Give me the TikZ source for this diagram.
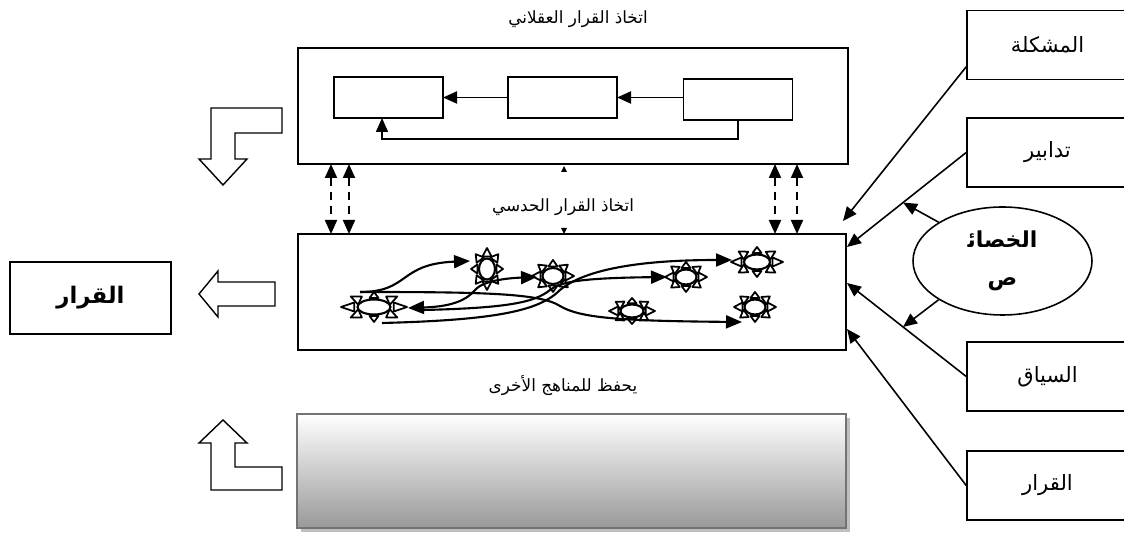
\documentclass[tikz,border=0pt]{standalone}
\usepackage{fontspec}
\usetikzlibrary{arrows.meta,shapes.geometric,shadows,calc}
\newfontfamily\arabicfont[Script=Arabic]{DejaVu Sans}
\TeXXeTstate=1
\newcommand{\artext}[1]{\arabicfont\beginR #1\endR}

% A sun: eight rays round an ellipse node.
\newcommand{\sunnode}[5]{%
  \foreach \a in {0,45,...,315} {
    \path (#2,#3) coordinate (ctr) +(\a:#4 and #5) coordinate (tp);
    \coordinate (bs) at ($(ctr)!0.6!(tp)$);
    \draw[ray] ($(bs)!0.09cm!90:(tp)$) -- (tp) -- ($(bs)!0.09cm!-90:(tp)$) -- cycle;
  }
  \node[suncore,minimum width=#4*2cm,minimum height=#5*2cm] (#1) at (#2,#3) {};
}

\begin{document}
\begin{tikzpicture}[x=2cm,y=-2cm,
  >={Triangle[length=0.28cm,width=0.24cm]},
  box/.style={draw,line width=1.1pt,inner sep=0pt,outer sep=0pt},
  label/.style={draw,line width=0.9pt,inner sep=0pt,minimum width=3.22cm,
    minimum height=1.38cm,font=\fontsize{12}{14}\selectfont},
  title/.style={font=\fontsize{9.6}{11}\selectfont},
  link/.style={line width=1.1pt},
  feed/.style={line width=0.9pt},
  curve/.style={line width=1.2pt,>={Triangle[length=0.32cm,width=0.26cm]}},
  ray/.style={draw,fill=white,line width=1pt,line join=round},
  suncore/.style={ellipse,draw,fill=white,line width=1.2pt,inner sep=0pt},
  blockarrow/.style={draw,fill=white,line width=0.8pt}]

  \useasboundingbox (0,0) rectangle (11.24,5.39);

  % Rational decision making.
  \node[title] (rtitle) at (5.78,0.19) {\artext{اتخاذ القرار العقلاني}};
  \node[box,minimum width=11cm,minimum height=2.32cm] (rational) at (5.73,1.06) {};
  \node[box,minimum width=2.18cm,minimum height=0.82cm] (stepA) at (3.885,0.975) {};
  \node[box,minimum width=2.18cm,minimum height=0.82cm] (stepB) at (5.625,0.975) {};
  \node[box,minimum width=2.18cm,minimum height=0.82cm] (stepC) at (7.38,0.995) {};
  \draw[link,->] (stepC.west |- stepB.east) -- (stepB.east);
  \draw[link,->] (stepB.west) -- (stepA.east);
  \coordinate (back) at (3.82,1.39);
  \draw[feed,->] (stepC.south) |- (back) -- (back |- stepA.south); % loop back

  % Intuitive decision making.
  \node[title] (ititle) at (5.63,2.07) {\artext{اتخاذ القرار الحدسي}};
  \node[box,minimum width=10.96cm,minimum height=2.32cm] (intuitive) at (5.72,2.92) {};

  % Two-way links between both boxes.
  \foreach \x in {3.31,3.49,7.75,7.97}
    \draw[link,<->,dash pattern=on 0.16cm off 0.12cm] (rational.south -| \x,0) -- (intuitive.north -| \x,0);
  \fill (5.64,1.66) -- (5.61,1.72) -- (5.67,1.72) -- cycle;
  \fill (5.64,2.34) -- (5.61,2.28) -- (5.67,2.28) -- cycle;

  % Suns.
  \sunnode{sA}{3.74}{3.07}{0.33}{0.15}
  \sunnode{sB}{4.87}{2.69}{0.16}{0.21}
  \sunnode{sC}{5.53}{2.76}{0.21}{0.16}
  \sunnode{sD}{6.86}{2.77}{0.21}{0.15}
  \sunnode{sE}{7.57}{2.62}{0.26}{0.15}
  \sunnode{sF}{6.32}{3.11}{0.23}{0.13}
  \sunnode{sG}{7.55}{3.07}{0.21}{0.15}

  \draw[curve,->] ($(sA)+(-0.14,-0.15)$) .. controls (4.10,2.92) and (3.98,2.64) .. ($(sB)+(-0.17,-0.08)$);
  \draw[curve,->] ($(sA)+(-0.14,-0.15)$) .. controls (4.80,2.92) and (5.40,2.93) .. (5.60,3.06)
    .. controls (5.80,3.18) and (6.20,3.21) .. ($(sG)+(-0.13,0.15)$);
  \draw[curve,<->] ($(sA)+(0.34,0.01)$) .. controls (4.70,3.06) and (4.72,2.90) .. (4.80,2.86)
    .. controls (4.90,2.80) and (5.10,2.78) .. ($(sC)+(-0.16,0.01)$);
  \draw[curve,->] ($(sA)+(0.49,0.03)$) .. controls (5.10,3.08) and (5.35,3.02) .. (5.50,2.90)
    .. controls (5.60,2.82) and (5.80,2.78) .. ($(sD)+(-0.19,0)$);
  \draw[curve,->] ($(sA)+(0.08,0.16)$) .. controls (5.00,3.20) and (5.40,3.10) .. (5.60,2.90)
    .. controls (5.90,2.65) and (6.60,2.60) .. ($(sE)+(-0.25,-0.02)$);

  % The decision, with the block arrows.
  \node[box,line width=0.9pt,minimum width=3.22cm,minimum height=1.44cm,
    font=\bfseries\fontsize{13}{15}\selectfont] (decision) at (0.905,2.98) {\artext{القرار}};
  \draw[blockarrow] (2.11,1.08) -- (2.82,1.08) -- (2.82,1.33) -- (2.35,1.33) -- (2.35,1.59)
    -- (2.47,1.59) -- (2.23,1.85) -- (1.99,1.59) -- (2.11,1.59) -- cycle;
  \draw[blockarrow] (1.99,2.94) -- (2.18,2.71) -- (2.18,2.82) -- (2.75,2.82) -- (2.75,3.06)
    -- (2.18,3.06) -- (2.18,3.17) -- cycle;
  \draw[blockarrow] (2.23,4.20) -- (2.47,4.43) -- (2.35,4.43) -- (2.35,4.67) -- (2.82,4.67)
    -- (2.82,4.90) -- (2.11,4.90) -- (2.11,4.43) -- (1.99,4.43) -- cycle;

  % Kept for the other approaches.
  \node[title] (stitle) at (5.63,3.86) {\artext{يحفظ للمناهج الأخرى}};
  \node[draw=black!55,line width=1pt,top color=white,bottom color=black!40,
    drop shadow={shadow xshift=0.08cm,shadow yshift=-0.08cm,fill=black!25,opacity=1},
    minimum width=10.98cm,minimum height=2.28cm] (store) at (5.715,4.71) {};

  % Inputs on the right.
  \node[label] (problem) at (10.475,0.45) {\artext{المشكلة}};
  \node[label] (measures) at (10.475,1.525) {\artext{تدابير}};
  \node[label] (context) at (10.475,3.765) {\artext{السياق}};
  \node[label] (result) at (10.475,4.855) {\artext{القرار}};
  \node[ellipse,draw,line width=0.9pt,minimum width=3.58cm,minimum height=2.16cm,align=center,
    font=\bfseries\fontsize{12.5}{22}\selectfont] (traits) at (10.025,2.61)
    {\artext{الخصائ^^^^200d}\\\artext{ص}};

  \coordinate (inP) at (8.43,2.21);
  \coordinate (inM) at (8.47,2.47);
  \coordinate (inC) at (8.47,2.83);
  \coordinate (inR) at (8.47,3.29);
  \draw[feed,->] (problem.195) -- (inP);
  \draw[feed,->] (measures.west) -- (inM);
  \draw[feed,->] (context.west) -- (inC);
  \draw[feed,->] (result.west) -- (inR);
  \draw[feed,->] (traits.north west) -- ($(measures.west)!0.53!(inM)$);
  \draw[feed,->] (traits.south west) -- ($(context.west)!0.53!(inC)$);

\end{tikzpicture}
\end{document}
